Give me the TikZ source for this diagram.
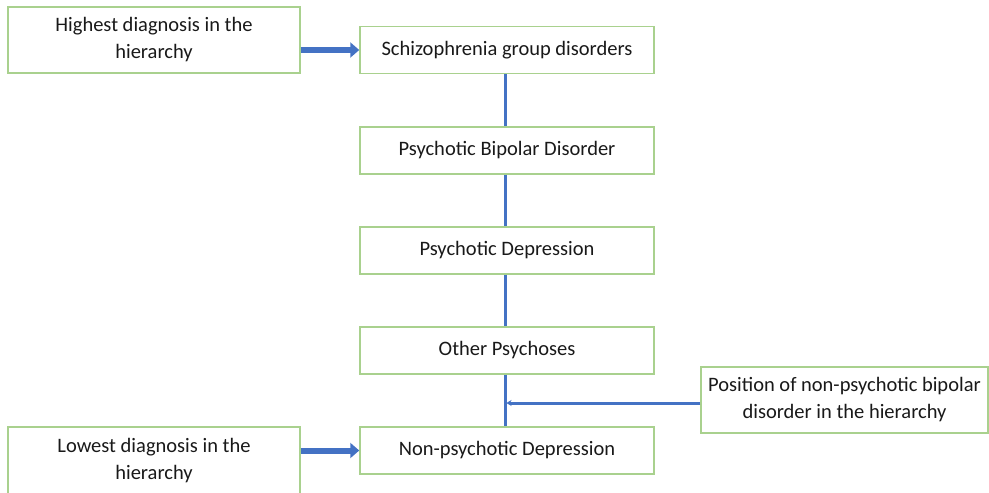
\documentclass[tikz,border=0pt]{standalone}
\usepackage{fontspec}
\setmainfont{Carlito}
\usetikzlibrary{arrows.meta}
\definecolor{boxgreen}{HTML}{A9D18E}
\definecolor{linkblue}{HTML}{4472C4}
\tikzset{
  box/.style={draw=boxgreen, line width=1.5pt, inner sep=0pt, align=center,
    font=\fontsize{20.5}{27}\selectfont, text=black!90},
  mainbox/.style={box, minimum width=294pt, minimum height=47pt},
  sidebox/.style={box, minimum width=292pt, minimum height=66pt},
  link/.style={draw=linkblue, line width=3pt},
  bigarrow/.style={draw=linkblue, line width=6pt, -{Triangle[length=9pt,width=15pt]}},
  smallarrow/.style={draw=linkblue, line width=3pt, -{Stealth[length=5pt,width=6pt]}}
}
\begin{document}
\begin{tikzpicture}[x=1pt,y=-1pt]
\useasboundingbox (0,0) rectangle (989,493);
\node[sidebox] (high) at (154,40) {Highest diagnosis in the\\hierarchy};
\node[mainbox] (schiz) at (507,50) {Schizophrenia group disorders};
\node[mainbox] (pbd) at (507,150.5) {Psychotic Bipolar Disorder};
\node[mainbox] (pd) at (507,250.5) {Psychotic Depression};
\node[mainbox] (op) at (507,350.5) {Other Psychoses};
\node[mainbox] (npd) at (507,450.5) {Non-psychotic Depression};
\node[sidebox, minimum height=68pt] (low) at (154,461) {Lowest diagnosis in the\\hierarchy};
\node[box, minimum width=287pt, minimum height=66pt] (pos) at (844.5,400) {Position of non-psychotic bipolar\\disorder in the hierarchy};
\draw[link] (schiz.south -| 505,0) -- (pbd.north -| 505,0);
\draw[link] (pbd.south -| 505,0) -- (pd.north -| 505,0);
\draw[link] (pd.south -| 505,0) -- (op.north -| 505,0);
\draw[link] (op.south -| 505,0) -- (npd.north -| 505,0);
\coordinate (join) at (505,403);
\draw[smallarrow] (pos.west |- join) -- ([xshift=1.5pt]join);
\draw[bigarrow] (high.east |- schiz.west) -- (schiz.west);
\draw[bigarrow] (low.east |- npd.west) -- (npd.west);
\end{tikzpicture}
\end{document}
